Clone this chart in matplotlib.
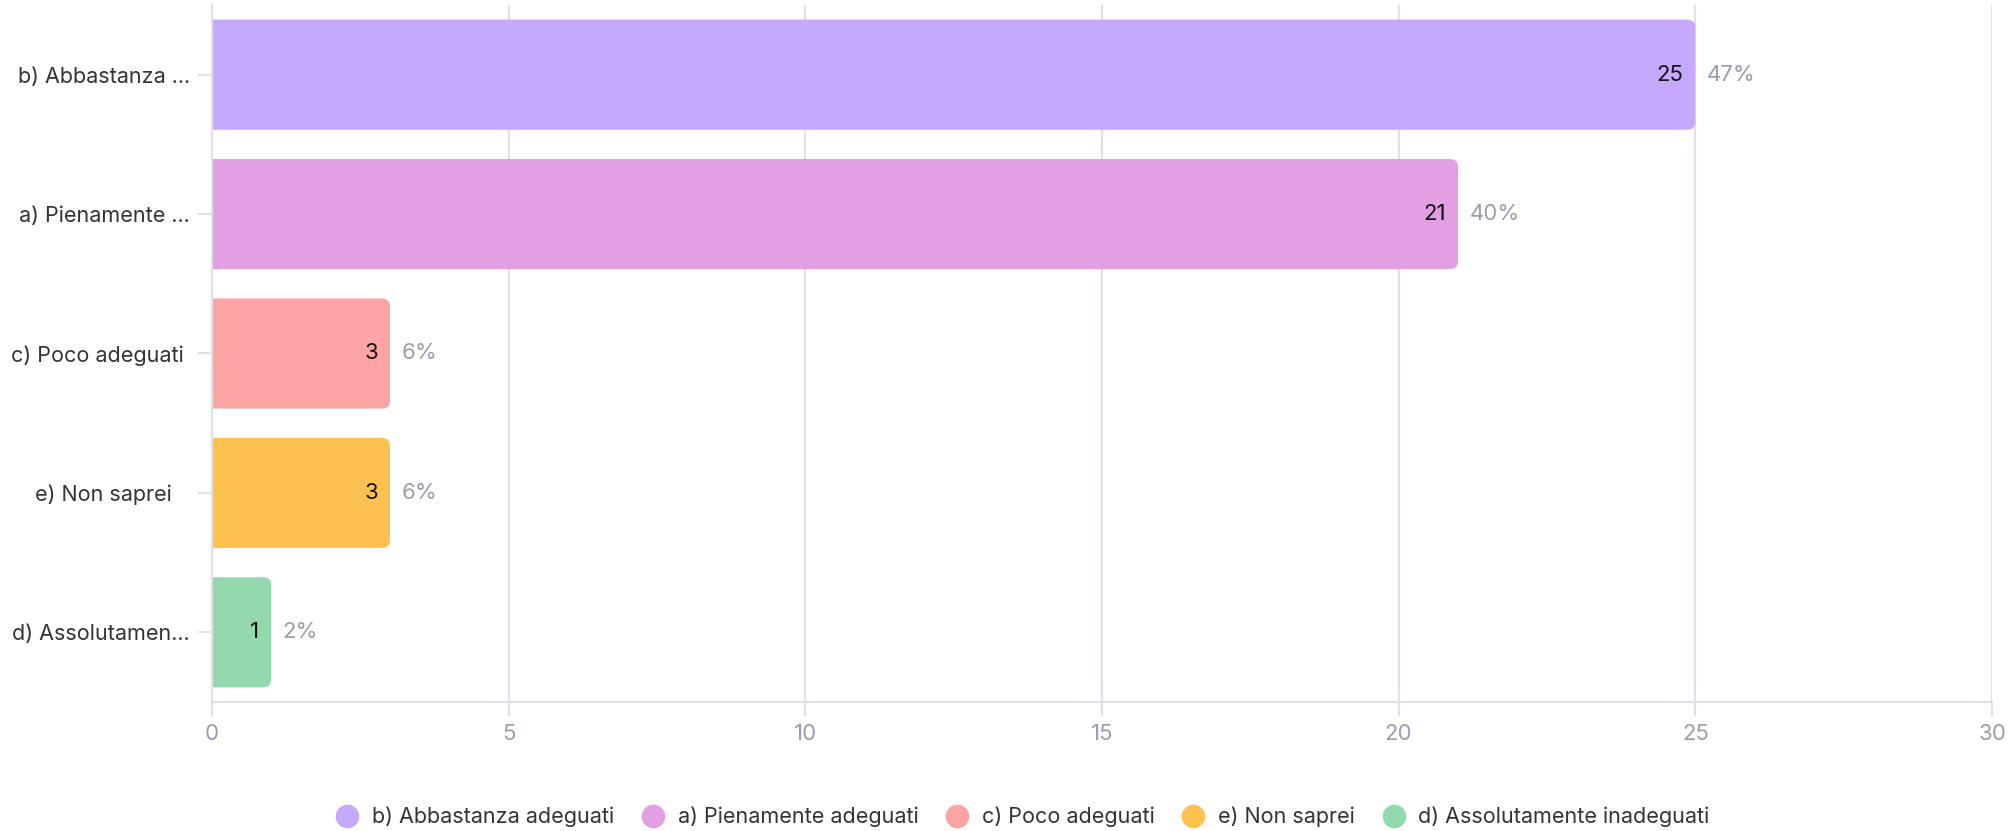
import matplotlib
matplotlib.use("Agg")
import matplotlib.pyplot as plt
from matplotlib.patches import FancyBboxPatch
from matplotlib.lines import Line2D

plt.rcParams["font.family"] = ["Inter", "DejaVu Sans"]

# dati del grafico
categorie = ["b) Abbastanza ...", "a) Pienamente ...", "c) Poco adeguati ", "e) Non saprei   ", "d) Assolutamen..."]
legenda = ["b) Abbastanza adeguati", "a) Pienamente adeguati", "c) Poco adeguati", "e) Non saprei", "d) Assolutamente inadeguati"]
valori = [25, 21, 3, 3, 1]
percentuali = ["47%", "40%", "6%", "6%", "2%"]
colori = ["#c6a9fe", "#e2a0e3", "#fca3a3", "#fec150", "#93d9ad"]

fig = plt.figure(figsize=(20.11, 8.31), dpi=100)
ax = fig.add_axes([212 / 2011, 1 - 702 / 831, (1992 - 212) / 2011, (702 - 5) / 831])

ax.set_xlim(0, 30)
ax.set_ylim(4.5, -0.5)

altezza = 0.79
# raggio angoli: ~8px
rx = 8 / 59.33
ry = 8 / 139.4
for i, v in enumerate(valori):
    p = FancyBboxPatch((-1, i - altezza / 2), v + 1, altezza,
                       boxstyle=f"round,pad=0,rounding_size={rx}",
                       mutation_aspect=ry / rx,
                       facecolor=colori[i], edgecolor="none", zorder=2)
    ax.add_patch(p)
    ax.text(v - 0.2, i, str(v), ha="right", va="center", fontsize=16, color="#111111", zorder=3)
    ax.text(v + 0.19, i, percentuali[i], ha="left", va="center", fontsize=16, color="#9b9bb3", zorder=3)

ax.set_xticks(range(0, 31, 5))
ax.set_yticks(range(len(categorie)))
ax.set_yticklabels(categorie, fontsize=15.5, color="#333333")
ax.tick_params(axis="x", colors="#e0e0ea", labelcolor="#9b9bb3", labelsize=16, length=10, width=1.5, pad=6)
ax.tick_params(axis="y", colors="#e0e0ea", labelcolor="#333333", length=10, width=1.5, pad=6)
ax.grid(axis="x", color="#e0e0ea", linewidth=1.5, zorder=0)
ax.set_axisbelow(True)
for s in ["top", "right"]:
    ax.spines[s].set_visible(False)
for s in ["left", "bottom"]:
    ax.spines[s].set_color("#e0e0ea")
    ax.spines[s].set_linewidth(1.5)

handles = [Line2D([], [], marker="o", linestyle="none", markersize=17,
                  markerfacecolor=c, markeredgecolor="none") for c in colori]
fig.legend(handles, legenda, loc="center", bbox_to_anchor=(0.506, 1 - 817 / 831),
           ncol=5, frameon=False, fontsize=15.5, handletextpad=0.15, columnspacing=0.8,
           labelcolor="#333333")

fig.savefig("out.png", dpi=100)
